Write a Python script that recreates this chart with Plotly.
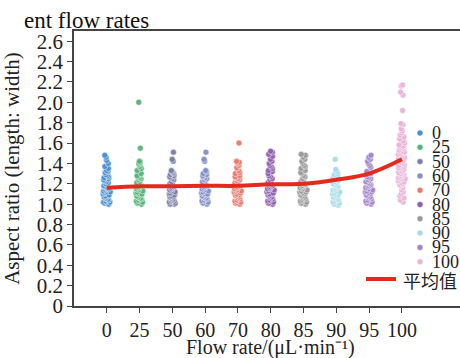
import plotly.graph_objects as go

categories = ["0", "25", "50", "60", "70", "80", "85", "90", "95", "100"]
colors = ["#4a90d0", "#55b478", "#7a7ea8", "#8490c8", "#e8796e",
          "#8e5fb0", "#999999", "#a8dce8", "#a384cc", "#eab4d8"]

c0 = [1.48, 1.46, 1.43, 1.40, 1.37, 1.35, 1.33, 1.32, 1.31, 1.29, 1.28, 1.27, 1.26, 1.25, 1.24,
      1.23, 1.22, 1.21, 1.20, 1.19, 1.18, 1.17, 1.16, 1.15, 1.15, 1.14, 1.13, 1.12, 1.11, 1.10,
      1.09, 1.08, 1.07, 1.06, 1.05, 1.04, 1.03, 1.02, 1.01, 1.00, 1.12, 1.08, 1.05, 1.02]
c25 = [2.00, 1.55, 1.42, 1.41, 1.40, 1.39, 1.37, 1.35, 1.33, 1.30, 1.28, 1.27, 1.26, 1.25, 1.24,
       1.22, 1.21, 1.20, 1.19, 1.18, 1.17, 1.16, 1.15, 1.14, 1.13, 1.12, 1.11, 1.10, 1.09, 1.08,
       1.07, 1.06, 1.05, 1.04, 1.03, 1.02, 1.01, 1.00, 1.10, 1.06]
c50 = [1.51, 1.44, 1.42, 1.33, 1.32, 1.31, 1.30, 1.29, 1.28, 1.27, 1.26, 1.25, 1.24, 1.22, 1.21,
       1.20, 1.19, 1.18, 1.17, 1.16, 1.15, 1.14, 1.13, 1.12, 1.11, 1.10, 1.09, 1.08, 1.07, 1.06,
       1.05, 1.04, 1.03, 1.02, 1.01, 1.00, 1.00, 1.03, 1.07]
c60 = [1.51, 1.44, 1.42, 1.33, 1.32, 1.30, 1.29, 1.28, 1.27, 1.26, 1.25, 1.24, 1.23, 1.22, 1.20,
       1.19, 1.18, 1.17, 1.16, 1.15, 1.14, 1.13, 1.12, 1.11, 1.10, 1.09, 1.08, 1.07, 1.06, 1.05,
       1.04, 1.03, 1.02, 1.01, 1.00, 1.06, 1.10]
c70 = [1.60, 1.42, 1.41, 1.40, 1.38, 1.36, 1.35, 1.33, 1.31, 1.30, 1.28, 1.27, 1.26, 1.25, 1.24,
       1.23, 1.22, 1.21, 1.20, 1.19, 1.18, 1.17, 1.16, 1.15, 1.14, 1.13, 1.12, 1.11, 1.10, 1.09,
       1.08, 1.07, 1.06, 1.05, 1.04, 1.03, 1.02, 1.01, 1.00, 1.13, 1.09]
c80 = [1.52, 1.51, 1.49, 1.47, 1.44, 1.42, 1.40, 1.38, 1.37, 1.35, 1.33, 1.32, 1.30, 1.28, 1.27,
       1.25, 1.24, 1.22, 1.21, 1.20, 1.19, 1.18, 1.17, 1.16, 1.15, 1.14, 1.13, 1.12, 1.11, 1.10,
       1.09, 1.08, 1.07, 1.06, 1.05, 1.04, 1.03, 1.02, 1.01, 1.00, 1.15, 1.10]
c85 = [1.49, 1.48, 1.46, 1.44, 1.42, 1.40, 1.38, 1.37, 1.35, 1.33, 1.31, 1.30, 1.28, 1.27, 1.25,
       1.24, 1.22, 1.21, 1.20, 1.19, 1.18, 1.17, 1.16, 1.15, 1.14, 1.13, 1.12, 1.11, 1.10, 1.09,
       1.08, 1.07, 1.06, 1.05, 1.04, 1.03, 1.02, 1.01, 1.00, 1.12]
c90 = [1.44, 1.34, 1.32, 1.30, 1.29, 1.27, 1.26, 1.25, 1.24, 1.23, 1.22, 1.21, 1.20, 1.19, 1.18,
       1.17, 1.16, 1.15, 1.14, 1.13, 1.12, 1.11, 1.10, 1.09, 1.08, 1.07, 1.06, 1.05, 1.04, 1.03,
       1.02, 1.01, 1.00, 0.99, 1.05, 1.10]
c95 = [1.48, 1.46, 1.44, 1.42, 1.40, 1.38, 1.36, 1.32, 1.30, 1.29, 1.27, 1.26, 1.25, 1.24, 1.23,
       1.22, 1.21, 1.20, 1.19, 1.18, 1.17, 1.16, 1.15, 1.14, 1.13, 1.12, 1.11, 1.10, 1.09, 1.08,
       1.07, 1.06, 1.05, 1.04, 1.03, 1.02, 1.01, 1.00, 1.12]
c100 = [2.17, 2.16, 2.10, 2.07, 1.92, 1.79, 1.78, 1.74, 1.72, 1.70, 1.68, 1.66, 1.64, 1.62, 1.60,
        1.58, 1.57, 1.56, 1.55, 1.53, 1.52, 1.51, 1.50, 1.49, 1.48, 1.47, 1.46, 1.45, 1.44, 1.43,
        1.42, 1.41, 1.40, 1.39, 1.38, 1.37, 1.36, 1.35, 1.34, 1.33, 1.32, 1.31, 1.30, 1.29, 1.28,
        1.27, 1.26, 1.25, 1.24, 1.23, 1.22, 1.21, 1.20, 1.19, 1.18, 1.16, 1.14, 1.12, 1.10, 1.08,
        1.06, 1.04, 1.02, 1.55, 1.45, 1.35, 1.30, 1.25]
series = [c0, c25, c50, c60, c70, c80, c85, c90, c95, c100]

means = [1.16, 1.175, 1.175, 1.18, 1.18, 1.195, 1.20, 1.24, 1.30, 1.44]
mean_label = "平均值"
x_title = "Flow rate/(μL·min⁻¹)"
y_title = "Aspect ratio (length: width)"

yticks = [0, 0.2, 0.4, 0.6, 0.8, 1.0, 1.2, 1.4, 1.6, 1.8, 2.0, 2.2, 2.4, 2.6]
ytick_text = ["0" if v == 0 else f"{v:.1f}" for v in yticks]

W, H = 460, 358
ML, MR, MT, MB = 74, 0, 31, 52
SERIF = "Liberation Serif, Times New Roman, serif"

fig = go.Figure()
pos = list(range(len(categories)))

fig.add_trace(go.Scatter(
    x=pos, y=means, mode="lines", line=dict(color="#e32a1f", width=4, shape="spline"),
    showlegend=False, hoverinfo="skip"))

for i, (cat, vals, col) in enumerate(zip(categories, series, colors)):
    fig.add_trace(go.Box(
        x=[i] * len(vals), y=vals, name=cat, boxpoints="all", jitter=1, pointpos=0,
        width=0.24, line=dict(width=0, color="rgba(0,0,0,0)"), fillcolor="rgba(0,0,0,0)",
        marker=dict(size=6, color=col, opacity=0.95,
                    line=dict(color="rgba(255,255,255,0.85)", width=0.6)),
        showlegend=False))

# manual legend (pixel layout like the reference)
pw = W - ML - MR
ph = H - MT - MB


def px2paper(px, py):
    return (px - ML) / pw, (H - MB - py) / ph


for k, (cat, col) in enumerate(zip(categories, colors)):
    py = 133 + k * 14.3
    xp, yp = px2paper(420, py)
    fig.add_shape(type="circle", xref="paper", yref="paper", xsizemode="pixel",
                  ysizemode="pixel", xanchor=xp, yanchor=yp, x0=-3, x1=3, y0=-3, y1=3,
                  fillcolor=col, line=dict(color="white", width=0.5))
    tx, ty = px2paper(430, py)
    fig.add_annotation(x=tx, y=ty, xref="paper", yref="paper", text=cat, showarrow=False,
                       xanchor="left", yanchor="middle", font=dict(family=SERIF, size=18, color="#222"))

lx0, ly = px2paper(366, 279)
lx1, _ = px2paper(396, 279)
fig.add_shape(type="line", xref="paper", yref="paper", x0=lx0, x1=lx1, y0=ly, y1=ly,
              line=dict(color="#e32a1f", width=4))
tx, ty = px2paper(401, 280)
fig.add_annotation(x=tx, y=ty, xref="paper", yref="paper", text=mean_label, showarrow=False,
                   xanchor="left", yanchor="middle",
                   font=dict(family="Noto Sans CJK SC", size=18, color="#222"))

# x-axis title placed as in the reference
tx, ty = px2paper(270, 347)
fig.add_annotation(x=tx, y=ty, xref="paper", yref="paper", text=x_title, showarrow=False,
                   xanchor="center", yanchor="middle", font=dict(family=SERIF, size=20, color="#222"))

fig.update_layout(
    width=W, height=H, margin=dict(l=ML, r=MR, t=MT, b=MB, autoexpand=False),
    paper_bgcolor="white", plot_bgcolor="white",
    font=dict(family=SERIF, size=21, color="#222"),
    title=dict(text="ent flow rates", xref="container", yref="container",
               x=24 / W, xanchor="left", y=1 - 20 / H, yanchor="middle",
               font=dict(family=SERIF, size=23, color="#111")),
    xaxis=dict(range=[-1, 10.77], tickmode="array", tickvals=pos, ticktext=categories,
               showgrid=False, zeroline=False, showline=True, linecolor="#444", linewidth=1.5,
               mirror=True, ticks="outside", ticklen=5, tickcolor="#444", automargin=False,
               tickfont=dict(size=20)),
    yaxis=dict(range=[0, 2.7], tickmode="array", tickvals=yticks, ticktext=ytick_text,
               showgrid=False, zeroline=False, showline=True, linecolor="#444", linewidth=1.5,
               ticks="outside", ticklen=5, tickcolor="#444", automargin=False,
               tickfont=dict(size=21),
               title=dict(text=y_title, font=dict(size=21))),
)

fig.write_html("out.html")
